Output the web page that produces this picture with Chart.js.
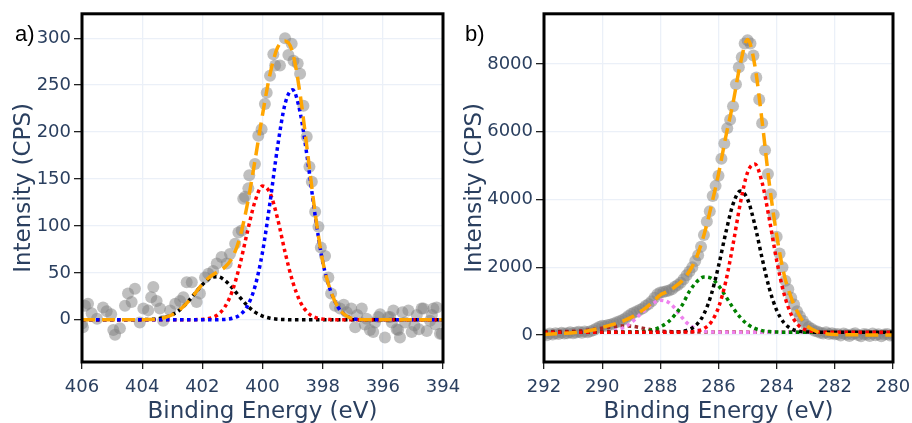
<!DOCTYPE html>
<html><head><meta charset="utf-8">
<script src="https://cdn.jsdelivr.net/npm/chart.js@4.4.0/dist/chart.umd.min.js"></script>
<style>
body{margin:0;background:#fff;width:912px;height:423px;overflow:hidden;position:relative;}
canvas{position:absolute;top:0;}
.lbl{position:absolute;font-family:'Liberation Sans',sans-serif;font-size:22px;line-height:22px;color:#000;}
</style></head>
<body>
<canvas id="ca" width="470" height="426" style="left:0;width:470px;height:426px"></canvas>
<canvas id="cb" width="470" height="426" style="left:456px;width:470px;height:426px"></canvas>
<div class="lbl" style="left:15px;top:23px">a)</div>
<div class="lbl" style="left:465px;top:23px">b)</div>
<script>
// ---------- Panel a (N 1s) ----------
const xTicksA = [406, 404, 402, 400, 398, 396, 394];
const yTicksA = [0, 50, 100, 150, 200, 250, 300];
const ptXa = [
 406.0, 405.97, 405.9, 405.8, 405.68, 405.5, 405.3, 405.18, 405.03, 404.96,
 404.9, 404.74, 404.57, 404.47, 404.35, 404.24, 404.08, 403.96, 403.8, 403.7,
 403.63, 403.52, 403.41, 403.3, 403.07, 402.9, 402.74, 402.63, 402.52, 402.35,
 402.19, 402.08, 401.91, 401.8, 401.64, 401.52, 401.36, 401.19, 401.08, 400.91,
 400.8, 400.69, 400.64, 400.58, 400.47, 400.44, 400.25, 400.14, 400.03, 399.92,
 399.86, 399.75, 399.64, 399.58, 399.42, 399.25, 399.14, 399.03, 398.97, 398.83,
 398.75, 398.64, 398.53, 398.44, 398.36, 398.25, 398.14, 398.06, 397.92, 397.81,
 397.72, 397.59, 397.42, 397.3, 397.2, 397.05, 396.92, 396.85, 396.7, 396.6,
 396.54, 396.43, 396.32, 396.26, 396.15, 396.09, 395.93, 395.82, 395.76, 395.7,
 395.65, 395.54, 395.49, 395.43, 395.35, 395.26, 395.15, 395.04, 394.95, 394.87,
 394.8, 394.71, 394.65, 394.54, 394.43, 394.37, 394.32, 394.25, 394.21, 394.1,
 394.04];
const ptYa = [
 -4, -8, 15, 17, 7, 1, 13, 9, 6, -11,
 -16, -9, 15, 28, 19, 33, -3, 12, 10, 24,
 35, 20, 12, -1, 10, 17, 20, 24, 40, 40,
 19, 28, 45, 49, 52, 60, 67, 60, 70, 81,
 93, 95, 129, 131, 140, 154, 166, 196, 203, 230,
 242, 260, 283, 271, 271, 300, 282, 294, 276, 273,
 262, 228, 195, 163, 147, 115, 99, 77, 68, 45,
 28, 15, 12, 16, 8, 12, -8, 5, 12, -5,
 1, -11, -13, -3, 3, 6, -19, 3, 3, -3,
 10, -10, -11, -19, 8, -3, 10, -13, -6, 5,
 -10, 12, 12, -12, -1, 5, 12, -5, 13, -15,
 -15];
const fitXa = [406, 405, 404.25, 404, 403.75, 403.5, 403.25, 403, 402.75, 402.5, 402.25, 402,
 401.75, 401.5, 401.25, 401, 400.75, 400.5, 400.25, 400, 399.75, 399.5, 399.25, 399,
 398.75, 398.5, 398.25, 398, 397.75, 397.5, 397.25, 397, 396.75, 396.5, 395, 394];
const envA = [0, 0, 0, 0.1, 0.3, 0.9, 2.4, 5.4, 10.6, 18.3, 27.9, 37.8,
 45.8, 51.1, 56.1, 66.3, 87.9, 123.6, 169.6, 218.5, 261.7, 290, 297, 285,
 240.4, 177.7, 113.6, 62.7, 32.2, 14, 5, 1.2, 0.3, 0, 0, 0];
const blueA = [0, 0, 0, 0, 0, 0, 0, 0, 0, 0, 0, 0,
 0, 0.1, 0.4, 1.6, 5.2, 14.7, 35.4, 72, 125, 184, 230, 245,
 221, 170, 111, 62, 32, 14, 5, 1.2, 0.3, 0, 0, 0];
const redA = [0, 0, 0, 0, 0, 0, 0, 0, 0, 0, 0.1, 0.4,
 1.6, 5.1, 13.7, 30.9, 58.8, 94, 126, 142.5, 135, 108, 72, 40.9,
 19.4, 7.7, 2.6, 0.7, 0.2, 0, 0, 0, 0, 0, 0, 0];
const blackA = [0, 0, 0, 0.1, 0.3, 0.9, 2.4, 5.4, 10.6, 18.3, 27.9, 37.4,
 44.2, 45.9, 42, 33.8, 23.9, 14.9, 8.2, 4.0, 1.7, 0.6, 0.2, 0,
 0, 0, 0, 0, 0, 0, 0, 0, 0, 0, 0, 0];

// ---------- Panel b (C 1s) ----------
const xTicksB = [292, 290, 288, 286, 284, 282, 280];
const yTicksB = [0, 2000, 4000, 6000, 8000];
const ptXb = [
 292, 291.9, 291.8, 291.7, 291.6, 291.5, 291.4, 291.3, 291.2, 291.1,
 291, 290.9, 290.8, 290.7, 290.6, 290.5, 290.4, 290.3, 290.2, 290.1,
 290, 289.9, 289.8, 289.7, 289.6, 289.5, 289.4, 289.3, 289.2, 289.1,
 289, 288.9, 288.8, 288.7, 288.6, 288.5, 288.4, 288.3, 288.2, 288.1,
 288, 287.9, 287.8, 287.7, 287.6, 287.5, 287.4, 287.3, 287.2, 287.1,
 287, 286.9, 286.8, 286.7, 286.6, 286.5, 286.4, 286.3, 286.2, 286.1,
 286, 285.9, 285.8, 285.7, 285.6, 285.5, 285.4, 285.3, 285.2, 285.1,
 285, 284.9, 284.8, 284.7, 284.6, 284.5, 284.4, 284.3, 284.2, 284.1,
 284, 283.9, 283.8, 283.7, 283.6, 283.5, 283.4, 283.3, 283.2, 283.1,
 283, 282.9, 282.8, 282.7, 282.6, 282.5, 282.4, 282.3, 282.2, 282.1,
 282, 281.9, 281.8, 281.7, 281.6, 281.5, 281.4, 281.3, 281.2, 281.1,
 281, 280.9, 280.8, 280.7, 280.6, 280.5, 280.4, 280.3, 280.2, 280.1,
 280];
const ptYb = [
 20, -10, 40, 10, 50, 30, 60, 40, 50, 80,
 50, 70, 90, 60, 100, 80, 110, 140, 190, 230,
 270, 260, 290, 310, 340, 370, 400, 440, 490, 560,
 620, 660, 700, 740, 790, 860, 910, 990, 1100, 1200,
 1250, 1270, 1290, 1310, 1350, 1420, 1470, 1540, 1640, 1760,
 1870, 2000, 2180, 2350, 2600, 2950, 3350, 3650, 4100, 4400,
 4700, 5200, 5650, 6100, 6350, 6750, 7400, 7900, 8200, 8600,
 8700, 8600, 8250, 7600, 6950, 6250, 5450, 4750, 4150, 3550,
 2900, 2400, 2000, 1600, 1350, 1100, 900, 700, 550, 420,
 300, 230, 180, 120, 100, 60, 40, 80, 30, 50,
 20, 30, -20, 40, 10, -30, 20, 50, 0, -40,
 30, 10, -30, 40, -10, 20, -40, 10, 30, -20,
 0];
const fitXb = [292, 291.75, 291.5, 291.25, 291, 290.75, 290.5, 290.25, 290, 289.75,
 289.5, 289.25, 289, 288.75, 288.5, 288.25, 288, 287.75, 287.5, 287.25,
 287, 286.75, 286.5, 286.25, 286, 285.75, 285.5, 285.25, 285, 284.75,
 284.5, 284.25, 284, 283.75, 283.5, 283.25, 283, 282.75, 282.5, 282.25,
 282, 281.75, 281.5, 281.25, 281, 280.75, 280.5, 280.25, 280];
const envB = [15, 25, 38, 50, 65, 85, 115, 160, 220, 280,
 340, 420, 520, 650, 800, 980, 1180, 1280, 1420, 1600,
 1880, 2300, 2950, 3800, 4750, 5850, 6850, 8000, 8720, 7950,
 6300, 4450, 2950, 1800, 1100, 620, 300, 150, 60, 30,
 15, 8, 5, 2, 0, 0, 0, 0, 0];
const redB = [80, 80, 80, 80, 80, 80, 80, 80, 80, 80,
 80, 80, 80, 80, 80, 80, 80, 80, 81, 83,
 88, 111, 186, 382, 810, 1575, 2672, 3882, 4801, 5043,
 4497, 3407, 2202, 1225, 603, 282, 146, 98, 84, 80,
 80, 80, 80, 80, 80, 80, 80, 80, 80];
const blackB = [80, 80, 80, 80, 80, 80, 80, 80, 80, 80,
 80, 80, 80, 80, 80, 80, 80, 80, 86, 104,
 160, 303, 618, 1187, 2030, 3015, 3861, 4245, 4005, 3244,
 2261, 1366, 729, 360, 183, 113, 89, 82, 80, 80,
 80, 80, 80, 80, 80, 80, 80, 80, 80];
const greenB = [80, 80, 80, 80, 80, 80, 80, 80, 80, 80,
 80, 80, 83, 90, 108, 150, 237, 370, 590, 880,
 1284, 1568, 1712, 1670, 1455, 1136, 800, 515, 314, 192,
 127, 98, 86, 80, 80, 80, 80, 80, 80, 80,
 80, 80, 80, 80, 80, 80, 80, 80, 80];
const violetB = [80, 80, 80, 80, 80, 80, 80, 80, 86, 100,
 140, 220, 360, 560, 760, 930, 1025, 975, 790, 510,
 290, 165, 105, 88, 82, 80, 80, 80, 80, 80,
 80, 80, 80, 80, 80, 80, 80, 80, 80, 80,
 80, 80, 80, 80, 80, 80, 80, 80, 80];
const brownB = [95, 96, 98, 100, 108, 120, 140, 165, 197, 229,
 253, 265, 258, 225, 180, 142, 115, 100, 93, 90,
 88, 87, 86, 85, 84, 84, 83, 83, 82, 82,
 81, 81, 80, 80, 79, 79, 78, 78, 77, 77,
 76, 76, 75, 75, 74, 74, 73, 73, 72];

// ---------- helpers ----------
const TXT = '#2a3f5f';
const FONT = "'DejaVu Sans', sans-serif";
function pts(xs, ys) { return xs.map((x, i) => ({ x: x, y: ys[i] })); }
function lineDs(xs, ys, color, dash, width) {
  return { data: pts(xs, ys), showLine: true, borderColor: color, borderWidth: width,
    borderDash: dash, pointRadius: 0, pointHoverRadius: 0, fill: false,
    cubicInterpolationMode: 'monotone' };
}
function scatterDs(xs, ys) {
  return { data: pts(xs, ys), showLine: false, pointRadius: 6, pointHoverRadius: 6,
    backgroundColor: 'rgba(128,128,128,0.5)', borderWidth: 0 };
}
const DASH = [13, 7], DOT = [3.5, 3.5];
const frame = { id: 'frame', afterDatasetsDraw(c) {
  const { ctx, chartArea: a } = c;
  ctx.save(); ctx.strokeStyle = '#000'; ctx.lineWidth = 3;
  ctx.strokeRect(a.left, a.top, a.right - a.left, a.bottom - a.top); ctx.restore();
} };
function scales(o) {
  const grid = { color: '#ebf0f8', lineWidth: 1.3, tickColor: '#222', tickLength: 8, tickWidth: 1.3 };
  return {
    x: { type: 'linear', reverse: true, min: o.xmin, max: o.xmax,
      afterBuildTicks: s => { s.ticks = o.xticks.map(v => ({ value: v })); },
      afterFit: s => { s.height = 64; },
      border: { display: false }, grid: Object.assign({}, grid, { tickLength: 7 }),
      ticks: { color: TXT, font: { family: FONT, size: 18 }, padding: 8, maxRotation: 0, autoSkip: false, callback: v => String(v) },
      title: { display: true, text: 'Binding Energy (eV)', color: TXT, font: { family: FONT, size: 23 }, padding: { top: 0, bottom: 0 } } },
    y: { type: 'linear', min: o.ymin, max: o.ymax,
      afterBuildTicks: s => { s.ticks = o.yticks.map(v => ({ value: v })); },
      afterFit: s => { s.width = o.yw; },
      border: { display: false }, grid: grid,
      ticks: { color: TXT, font: { family: FONT, size: 18 }, padding: 3, autoSkip: false, callback: v => String(v) },
      title: { display: true, text: 'Intensity (CPS)', color: TXT, font: { family: FONT, size: 23 }, padding: { top: o.tp, bottom: 0 } } }
  };
}
function opts(o) {
  return { responsive: false, animation: false, devicePixelRatio: 1, events: [],
    plugins: { legend: { display: false }, tooltip: { enabled: false } },
    layout: { padding: { top: 13, right: o.pr, left: 0, bottom: 0 } },
    scales: scales(o) };
}

new Chart(document.getElementById('ca'), {
  type: 'scatter',
  data: { datasets: [
    lineDs(fitXa, envA, '#ffa500', DASH, 3.5),
    lineDs(fitXa, blueA, '#0000ff', DOT, 3.5),
    lineDs(fitXa, redA, '#ff0000', DOT, 3.5),
    lineDs(fitXa, blackA, '#000000', DOT, 3.5),
    scatterDs(ptXa, ptYa)
  ] },
  options: opts({ xmin: 394, xmax: 406, xticks: xTicksA, ymin: -45, ymax: 326, yticks: yTicksA, yw: 82, tp: 10.5, pr: 27 }),
  plugins: [frame]
});

new Chart(document.getElementById('cb'), {
  type: 'scatter',
  data: { datasets: [
    lineDs(fitXb, envB, '#ffa500', DASH, 3.5),
    lineDs(fitXb, redB, '#ff0000', DOT, 3.5),
    lineDs(fitXb, blackB, '#000000', DOT, 3.5),
    lineDs(fitXb, greenB, '#008000', DOT, 3.5),
    lineDs(fitXb, violetB, '#ee82ee', DOT, 3.5),
    lineDs(fitXb, brownB, '#a52a2a', DOT, 3.5),
    scatterDs(ptXb, ptYb)
  ] },
  options: opts({ xmin: 280, xmax: 292, xticks: xTicksB, ymin: -800, ymax: 9480, yticks: yTicksB, yw: 88, tp: 5, pr: 33 }),
  plugins: [frame]
});
</script>
</body></html>
